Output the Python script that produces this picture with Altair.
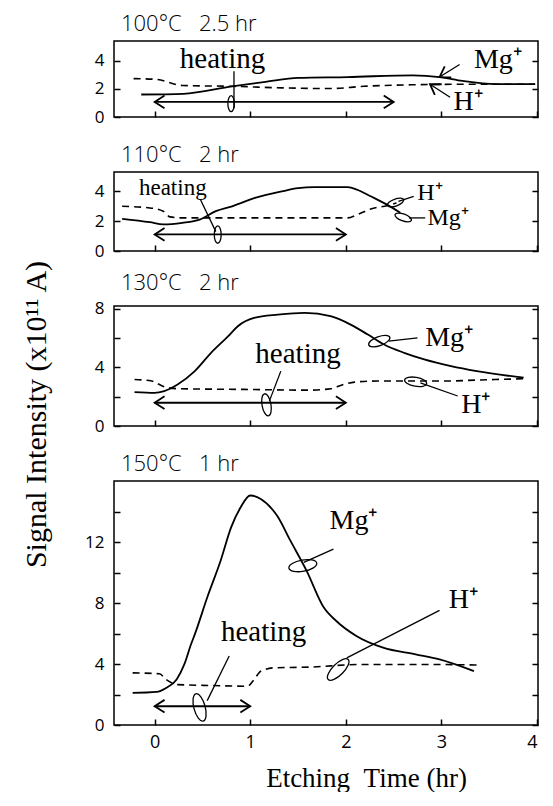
import altair as alt
import pandas as pd

# ---------------- axes / panels ----------------
X_MIN, X_MAX = -0.425, 4.01
X_TICKS = [0, 1, 2, 3, 4]

NB = "\u00a0"
TITLES = [f"100°C{NB*3}2.5{NB}hr", f"110°C{NB*3}2{NB}hr", f"130°C{NB*3}2{NB}hr", f"150°C{NB*3}1{NB}hr"]
Y_TITLE = "Signal Intensity (x10¹¹ A)"
X_TITLE = f"Etching{NB}{NB}Time (hr)"
Y_MAX = [5.4, 5.3, 8.2, 16.0]
Y_TICKS = [[0, 2, 4], [0, 2, 4], [0, 2, 4, 6, 8], [0, 2, 4, 6, 8, 10, 12, 14]]
Y_LABEL_STEP = [2, 2, 4, 4]
HEIGHTS = [76, 79, 120, 244]
SPACING = 55
PLOT_W = 424

# heating periods (hr) and the height of the double arrow
HEAT_START = [0, 0, 0, 0]
HEAT_END = [2.5, 2.0, 2.0, 1.0]
HEAT_Y = [1.07, 1.11, 1.59, 1.23]

# ---------------- signal curves (x10^11 A) ----------------
P1_MG_T = [-0.14, 0.3, 0.81, 1.16, 1.5, 2.02, 2.7, 2.98, 3.22, 3.57, 3.98]
P1_MG_V = [1.6, 1.65, 2.18, 2.5, 2.78, 2.84, 2.96, 2.84, 2.56, 2.33, 2.33]
P1_H_T = [-0.22, 0.02, 0.29, 0.81, 1.33, 1.84, 2.19, 2.7, 3.4, 3.98]
P1_H_V = [2.73, 2.67, 2.24, 2.18, 2.07, 2.02, 2.18, 2.29, 2.33, 2.33]

P2_MG_T = [-0.34, -0.05, 0.09, 0.29, 0.47, 0.64, 0.81, 1.05, 1.33, 1.5, 1.67, 2.02, 2.12, 2.26, 2.43, 2.57]
P2_MG_V = [2.16, 1.93, 1.78, 1.89, 2.11, 2.67, 3.0, 3.56, 4.0, 4.22, 4.29, 4.29, 4.11, 3.67, 3.11, 2.56]
P2_H_T = [-0.34, -0.05, 0.09, 0.16, 0.29, 0.98, 1.67, 2.02, 2.12, 2.26, 2.43, 2.53]
P2_H_V = [3.0, 2.89, 2.67, 2.29, 2.22, 2.22, 2.22, 2.22, 2.44, 2.82, 3.04, 3.22]

P3_MG_T = [-0.21, 0.0, 0.1, 0.24, 0.42, 0.59, 0.77, 0.87, 1.04, 1.29, 1.57, 1.84, 2.05, 2.23, 2.4, 2.61, 2.82, 3.1, 3.37, 3.86]
P3_MG_V = [2.32, 2.27, 2.39, 2.84, 3.75, 5.0, 6.14, 6.82, 7.39, 7.61, 7.73, 7.5, 6.93, 6.25, 5.57, 5.0, 4.55, 4.09, 3.75, 3.3]
P3_H_T = [-0.21, -0.03, 0.1, 0.24, 0.94, 1.63, 1.84, 1.98, 2.09, 2.33, 2.68, 3.03, 3.37, 3.86]
P3_H_V = [3.18, 3.07, 2.68, 2.55, 2.5, 2.45, 2.55, 2.84, 3.0, 3.07, 3.07, 3.07, 3.14, 3.23]

P4_MG_T = [-0.23, 0.02, 0.12, 0.23, 0.31, 0.38, 0.42, 0.55, 0.69, 0.8, 0.9, 1.0, 1.11, 1.28, 1.42, 1.59, 1.77, 1.9, 2.11, 2.39, 2.73, 2.98, 3.34]
P4_MG_V = [2.1, 2.17, 2.43, 2.98, 3.97, 5.28, 5.94, 8.36, 10.77, 12.96, 14.28, 15.05, 14.82, 13.73, 12.09, 10.11, 7.7, 6.82, 5.84, 5.07, 4.63, 4.3, 3.53]
P4_H_T = [-0.23, 0.05, 0.12, 0.24, 0.59, 0.97, 1.04, 1.11, 1.25, 1.63, 2.15, 2.84, 3.41]
P4_H_V = [3.42, 3.36, 2.98, 2.65, 2.59, 2.54, 2.98, 3.53, 3.75, 3.8, 3.97, 3.97, 3.93]

MG_T = [P1_MG_T, P2_MG_T, P3_MG_T, P4_MG_T]
MG_V = [P1_MG_V, P2_MG_V, P3_MG_V, P4_MG_V]
H_T = [P1_H_T, P2_H_T, P3_H_T, P4_H_T]
H_V = [P1_H_V, P2_H_V, P3_H_V, P4_H_V]

# ---------------- annotations ----------------
ANN_TEXT = [["heating", "Mg⁺", "H⁺"], ["heating", "H⁺", "Mg⁺"],
            ["heating", "Mg⁺", "H⁺"], ["heating", "Mg⁺", "H⁺"]]
ANN_X = [[0.71, 3.59, 3.28], [0.19, 2.88, 3.07], [1.5, 3.08, 3.36], [1.14, 2.08, 3.23]]
ANN_Y = [[3.5, 3.5, 0.5], [3.78, 3.4, 1.75], [4.3, 5.45, 0.9], [5.5, 12.85, 7.7]]
ANN_FS = [[29, 28, 28], [23, 24, 24], [29, 28, 28], [29, 28, 28]]

# leader lines (x1, y1, x2, y2)
LEADERS = [
    [(0.83, 3.25, 0.83, 0.62), (3.19, 3.73, 2.98, 2.84), (3.09, 1.4, 2.88, 2.33)],
    [(0.48, 3.44, 0.64, 1.3), (2.71, 3.67, 2.55, 3.33), (2.83, 2.22, 2.66, 2.22)],
    [(1.32, 3.75, 1.2, 1.7), (2.75, 6.02, 2.45, 5.8), (3.17, 2.05, 2.78, 2.95)],
    [(0.78, 4.52, 0.55, 1.6), (1.87, 11.53, 1.56, 10.66), (2.98, 7.52, 2.01, 4.4)],
]
# small loops at the leader ends (x, y, angle)
LOOPS = [
    [(0.8, 0.95, 90)],
    [(0.66, 1.1, 90), (2.52, 3.25, 340), (2.6, 2.25, 20)],
    [(1.17, 1.45, 80), (2.35, 5.8, 340), (2.73, 3.02, 10)],
    [(0.47, 1.15, 75), (1.55, 10.45, 350), (1.92, 3.64, 315)],
]
LOOP_SIZE = [260, 300, 500, 800]
# arrow heads on leader lines (x, y, angle)
POINTERS = [[(2.98, 2.84, 329), (2.88, 2.33, 33)], [], [], []]

CHEVRON = "M 1.4 -0.9 L 0 0 L 1.4 0.9"
ELLIPSE = "M -1 0 A 1 0.4 0 1 0 1 0 A 1 0.4 0 1 0 -1 0 Z"

SERIF = "Liberation Serif"
SANS = "Open Sans"


def panel(i):
    last = i == 3
    xs = alt.Scale(domain=[X_MIN, X_MAX], nice=False, zero=False)
    ys = alt.Scale(domain=[0, Y_MAX[i]], nice=False, zero=False)

    xkw = dict(values=X_TICKS, offset=-6, tickSize=6, domain=False, grid=False,
               labels=last, title="")
    if last:
        xkw.update(labelFontSize=18, labelPadding=8, labelFont=SANS,
                   title=X_TITLE, titleFont=SERIF, titleFontSize=27,
                   titleFontWeight="normal", titleX=252, titleAlign="center",
                   titlePadding=14)
    ykw = dict(orient="left", values=Y_TICKS[i], offset=-6, tickSize=6, domain=False,
               grid=False, labelPadding=10, labelFontSize=17, labelFont=SANS,
               labelExpr=f"datum.value % {Y_LABEL_STEP[i]} == 0 ? datum.label : ''",
               title="")
    yright = alt.Axis(orient="right", values=Y_TICKS[i], offset=-6, tickSize=6,
                      domain=False, grid=False, labels=False, title="")

    mg = pd.DataFrame({"t": MG_T[i], "v": MG_V[i]})
    hh = pd.DataFrame({"t": H_T[i], "v": H_V[i]})

    mg_line = alt.Chart(mg).mark_line(color="black", strokeWidth=1.8, interpolate="monotone").encode(
        x=alt.X("t:Q", scale=xs, axis=alt.Axis(**xkw)),
        y=alt.Y("v:Q", scale=ys, axis=alt.Axis(**ykw)),
    )
    h_line = alt.Chart(hh).mark_line(color="black", strokeWidth=1.6, strokeDash=[7, 5],
                                     interpolate="monotone").encode(
        x=alt.X("t:Q", scale=xs, axis=None),
        y=alt.Y("v:Q", scale=ys, axis=yright),
    )

    heat = pd.DataFrame({"a": [HEAT_START[i]], "b": [HEAT_END[i]], "y": [HEAT_Y[i]]})
    heat_rule = alt.Chart(heat).mark_rule(color="black", strokeWidth=1.8).encode(
        x=alt.X("a:Q", scale=xs, axis=None), x2="b:Q",
        y=alt.Y("y:Q", scale=ys, axis=None),
    )
    heads = pd.DataFrame({
        "x": [HEAT_START[i], HEAT_END[i]] + [p[0] for p in POINTERS[i]],
        "y": [HEAT_Y[i], HEAT_Y[i]] + [p[1] for p in POINTERS[i]],
        "ang": [0, 180] + [p[2] for p in POINTERS[i]],
    })
    head_pts = alt.Chart(heads).mark_point(shape=CHEVRON, filled=False, size=200,
                                           strokeWidth=1.8, color="black", opacity=1).encode(
        x=alt.X("x:Q", scale=xs, axis=None),
        y=alt.Y("y:Q", scale=ys, axis=None),
        angle=alt.Angle("ang:Q", scale=None),
    )

    lead = pd.DataFrame({
        "x1": [s[0] for s in LEADERS[i]], "y1": [s[1] for s in LEADERS[i]],
        "x2": [s[2] for s in LEADERS[i]], "y2": [s[3] for s in LEADERS[i]],
    })
    lead_rules = alt.Chart(lead).mark_rule(color="black", strokeWidth=1.3).encode(
        x=alt.X("x1:Q", scale=xs, axis=None), x2="x2:Q",
        y=alt.Y("y1:Q", scale=ys, axis=None), y2="y2:Q",
    )
    loops = pd.DataFrame({
        "x": [s[0] for s in LOOPS[i]], "y": [s[1] for s in LOOPS[i]],
        "ang": [s[2] for s in LOOPS[i]],
    })
    loop_pts = alt.Chart(loops).mark_point(shape=ELLIPSE, filled=False, size=LOOP_SIZE[i],
                                           strokeWidth=1.3, color="black", opacity=1).encode(
        x=alt.X("x:Q", scale=xs, axis=None),
        y=alt.Y("y:Q", scale=ys, axis=None),
        angle=alt.Angle("ang:Q", scale=None),
    )

    ann = pd.DataFrame({"x": ANN_X[i], "y": ANN_Y[i], "txt": ANN_TEXT[i], "fs": ANN_FS[i]})
    texts = alt.Chart(ann).mark_text(font=SERIF, align="center", baseline="alphabetic",
                                     color="black").encode(
        x=alt.X("x:Q", scale=xs, axis=None),
        y=alt.Y("y:Q", scale=ys, axis=None),
        text="txt:N",
        size=alt.Size("fs:Q", scale=None),
    )

    return alt.layer(mg_line, h_line, heat_rule, head_pts, lead_rules, loop_pts, texts).resolve_axis(
        x="independent", y="independent"
    ).properties(
        width=PLOT_W, height=HEIGHTS[i],
        title=alt.TitleParams(TITLES[i], anchor="start", frame="group", dx=7, font=SANS,
                              fontSize=22, fontWeight=300, offset=5),
    )


panels = alt.vconcat(*[panel(i) for i in range(4)], spacing=SPACING, bounds="flush")

total_h = sum(HEIGHTS) + SPACING * 3
ytitle = alt.Chart(pd.DataFrame({"v": [0]})).mark_point(opacity=0).encode(
    y=alt.Y("v:Q", axis=alt.Axis(title=Y_TITLE, labels=False, ticks=False, domain=False,
                                 grid=False, titleFont=SERIF, titleFontSize=30,
                                 titleFontWeight="normal", titleAngle=270, titleAlign="center",
                                 titleBaseline="middle", titleX=-18, titleY=373))
).properties(width=1, height=total_h, view=alt.ViewBackground(stroke="transparent"))

chart = alt.hconcat(ytitle, panels, spacing=59, bounds="flush").properties(
    padding={"left": 12, "top": 4, "right": 0, "bottom": 0}
).configure_view(stroke="black", strokeWidth=1.5).configure_axis(
    tickColor="black", tickWidth=1.5, labelColor="black", titleColor="black"
).configure_title(color="black")

chart.save("out.html", embed_options={"renderer": "svg", "actions": False})
